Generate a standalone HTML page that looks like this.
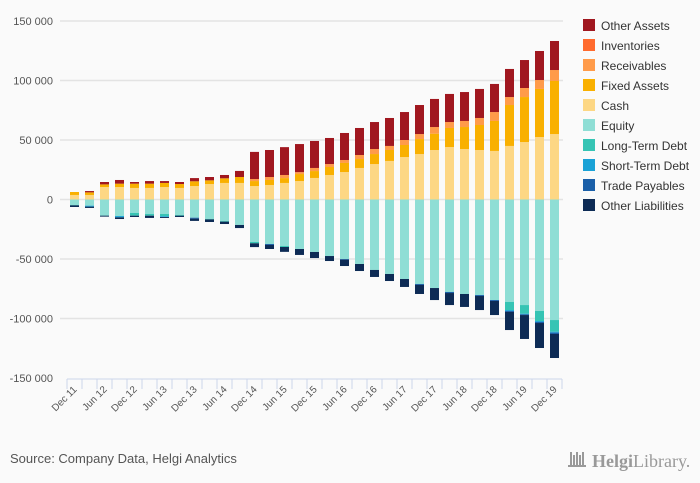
<!DOCTYPE html>
<html><head><meta charset="utf-8"><style>
body{margin:0;background:#fafafa;font-family:"Liberation Sans",sans-serif;}
#wrap{position:relative;width:700px;height:483px;background:#fafafa;overflow:hidden}
</style></head><body>
<div id="wrap">
<svg id="chart" width="700" height="483"></svg>
</div>
<script>
const categories=["Dec 11","Mar 12","Jun 12","Sep 12","Dec 12","Mar 13","Jun 13","Sep 13","Dec 13","Mar 14","Jun 14","Sep 14","Dec 14","Mar 15","Jun 15","Sep 15","Dec 15","Mar 16","Jun 16","Sep 16","Dec 16","Mar 17","Jun 17","Sep 17","Dec 17","Mar 18","Jun 18","Sep 18","Dec 18","Mar 19","Jun 19","Sep 19","Dec 19"];
const cash=[3.8,3.8,10.5,10.5,9.7,9.7,10.5,9.7,11.3,13,13.9,13.9,11.3,12.2,13.9,15.5,18.1,20.6,23.1,26.5,29.8,32.4,35.7,38.2,41.6,44.1,42.4,41.6,40.8,45,48.3,52.5,55];
const fixedAssets=[2.5,2.2,2.2,2.8,3.6,3.6,3.4,3.3,4,3.1,3.9,5,4.2,4.2,4.1,5.9,5.8,6.7,7.6,7.5,8.4,9.2,10.1,12.6,13.7,16,18.5,21,25.2,34.4,37.8,40.4,44.6];
const receivables=[0,0,0,0,0,0,0,0,0,0,0,0,1.7,2.5,2.6,1.6,2.6,2.5,2.5,3.4,4.2,3.4,4.2,4.2,5.6,5,5.1,5.9,7.5,6.7,7.6,7.5,9.2];
const inventories=[0,0,0,0,0,0,0,0,0,0,0,0,0,0,0,0,0,0,0,0,0,0,0,0,0,0,0,0,0,0,0,0,0];
const otherAssets=[0,1.1,2,3.1,1.4,2.2,1.6,1.7,2.7,2.8,2.8,5.1,22.8,22.7,23.4,23.6,22.7,21.9,22.7,22.7,22.7,23.5,23.5,24.4,23.6,23.6,24.3,24.4,23.6,23.6,23.5,24.4,24.4];
const equity=[4.6,5.2,13.3,13.9,11.3,12.2,12.2,13,15.3,16.4,18.1,21.4,35.7,37.4,39.1,41.6,44.1,47.5,50,54.2,59.2,62.6,66.8,71,74.4,77.7,79.4,80.3,84.5,86.1,88.7,93.7,101.3];
const longTermDebt=[0.3,0,0.3,0,2.3,1.4,1.9,0.6,0,0.3,0.5,0,1.1,0,0.8,0,0,0,0,0,0,0,0,0,0,0,0,0,0,6.8,7.3,8.4,9.8];
const shortTermDebt=[0,0.8,0,1.1,0,0,0.6,0,0,0,0,0,0,0,0,0,0,0,0,0,0,0,0,0,0,0,0,0,0,0.8,0.5,0.8,0.8];
const tradePayables=[0,0,0,0,0,0,0,0,0.8,0,0,0,0,0.8,0,0,0,0,0.6,0,0,0,0,0.8,0,0.9,0,0.8,0.8,0.8,0.6,0.9,1.1];
const otherLiabilities=[1.4,1.1,0.8,1.4,1.1,1.9,0.8,1.1,1.9,2.2,2,2.6,3.2,3.4,4.1,5,5.1,4.2,5.3,5.9,5.9,5.9,6.7,7.6,10.1,10.1,10.9,11.8,11.8,15.2,20.1,21,20.2];
const yTicks=[150,100,50,0,-50,-100,-150];
const yTickLabels=["150 000","100 000","50 000","0","-50 000","-100 000","-150 000"];

const NS="http://www.w3.org/2000/svg";
const svg=document.getElementById('chart');
const X0=67,STEP=15,BW=9;
function xc(i){return X0+STEP*(i+0.5);}
function y(v){return 199.5-v*1.19;}
function el(t,a,p){const e=document.createElementNS(NS,t);for(const k in a)e.setAttribute(k,a[k]);(p||svg).appendChild(e);return e;}

yTicks.forEach((v,i)=>{
 if(v!==-150){const g=el('line',{x1:60,x2:563,y1:y(v),y2:y(v),stroke:'#e3e3e3','stroke-width':1.5});
 
 }
 const t=el('text',{x:53,y:y(v)+4,'text-anchor':'end','font-size':11,fill:'#555'});
 t.textContent=yTickLabels[i];
 
 
});

const pos=[["cash",cash,"#fdd784"],["fixed-assets",fixedAssets,"#f9b000"],["receivables",receivables,"#ff9b4a"],["inventories",inventories,"#ff6a2e"],["other-assets",otherAssets,"#a0171f"]];
const neg=[["equity",equity,"#8fded5"],["long-term-debt",longTermDebt,"#36c4b4"],["short-term-debt",shortTermDebt,"#1aa2d6"],["trade-payables",tradePayables,"#1a5fa8"],["other-liabilities",otherLiabilities,"#0d2b55"]];
categories.forEach((c,i)=>{
 let acc=0;
 pos.forEach(([n,arr,col])=>{const v=arr[i];if(v>0){const r=el('rect',{x:xc(i)-BW/2,width:BW,y:y(acc+v),height:y(acc)-y(acc+v),fill:col});
 
 }acc+=v;});
 acc=0;
 neg.forEach(([n,arr,col])=>{const v=arr[i];if(v>0){const r=el('rect',{x:xc(i)-BW/2,width:BW,y:y(-acc),height:y(-acc-v)-y(-acc),fill:col});
 
 }acc+=v;});
});

const ax=el('line',{x1:X0,x2:X0+STEP*categories.length,y1:379,y2:379,stroke:'#ccd6eb'});


for(let i=0;i<=categories.length;i++){const t=el('line',{x1:X0+STEP*i,x2:X0+STEP*i,y1:379,y2:389,stroke:'#ccd6eb'});
 
 }
categories.forEach((c,i)=>{if(i%2)return;
 const tx=xc(i)+3,ty=390;
 const t=el('text',{x:tx,y:ty,'text-anchor':'end','font-size':10,fill:'#555',transform:`rotate(-45 ${tx} ${ty})`});
 t.textContent=c;
 
 
});

const legend=[["Other Assets","#a0171f"],["Inventories","#ff6a2e"],["Receivables","#ff9b4a"],["Fixed Assets","#f9b000"],["Cash","#fdd784"],["Equity","#8fded5"],["Long-Term Debt","#36c4b4"],["Short-Term Debt","#1aa2d6"],["Trade Payables","#1a5fa8"],["Other Liabilities","#0d2b55"]];
legend.forEach(([n,col],i)=>{
 const g=el('g',{});
 
 
 el('rect',{x:583,y:19+20*i,width:12,height:12,fill:col},g);
 const t=el('text',{x:601,y:30+20*i,'font-size':12,fill:'#333'},g);t.textContent=n;
});

const s=el('text',{x:10,y:463,'font-size':13,fill:'#555'});s.textContent="Source: Company Data, Helgi Analytics";


const lg=el('g',{});


[0,3,6,9,12].forEach((d,k)=>el('rect',{x:570+d,y:452+(k%2)*3,width:2,height:14-(k%2)*3,fill:'#999'},lg));
el('rect',{x:568,y:465,width:18,height:2,fill:'#999'},lg);
const lt=el('text',{x:592,y:467,'font-size':18,fill:'#999','font-family':'Liberation Serif, serif'},lg);
lt.innerHTML='<tspan font-weight="bold">Helgi</tspan>Library.';
</script>
</body></html>
